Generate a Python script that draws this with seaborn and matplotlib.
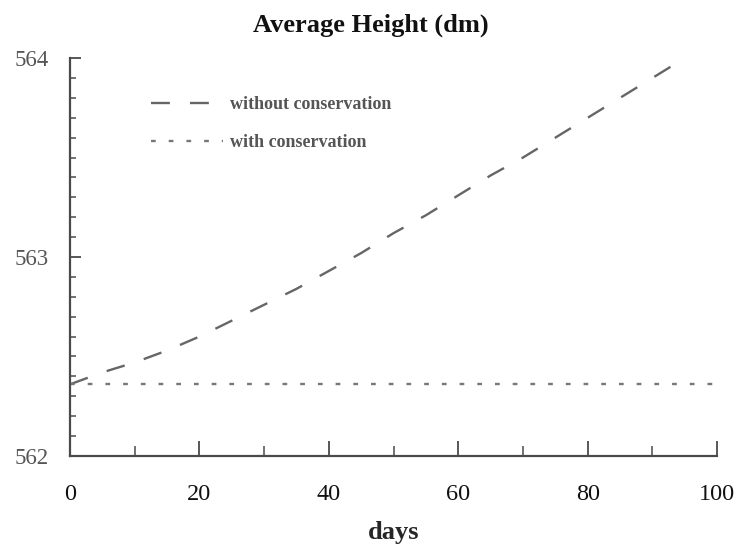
import matplotlib
matplotlib.use("Agg")
import matplotlib.pyplot as plt
import seaborn as sns
import pandas as pd
from matplotlib.ticker import MultipleLocator

# Simulated average height over time (dm)
days = [0, 5, 10, 15, 20, 25, 30, 35, 40, 45, 50,
        55, 60, 65, 70, 75, 80, 85, 90, 95, 100]
without_conservation = [562.36, 562.42, 562.47, 562.53, 562.60, 562.68, 562.76,
                        562.84, 562.93, 563.02, 563.12, 563.21, 563.31, 563.41,
                        563.50, 563.60, 563.70, 563.80, 563.90, 564.00, 564.10]
with_conservation = [562.36] * len(days)

series_names = ["without conservation", "with conservation"]
x_ticks = [0, 20, 40, 60, 80, 100]
y_ticks = [562, 563, 564]

df = pd.DataFrame({
    "days": days * 2,
    "height": without_conservation + with_conservation,
    "series": [series_names[0]] * len(days) + [series_names[1]] * len(days),
})

sns.set_theme(style="ticks")
plt.rcParams["font.family"] = ["Liberation Serif", "DejaVu Serif"]

fig = plt.figure(figsize=(7.37, 5.48), dpi=100)
ax = fig.add_axes([0.095, 0.168, 0.878, 0.726])

line_color = "#666666"
sns.lineplot(
    data=df, x="days", y="height", hue="series", style="series",
    palette={series_names[0]: line_color, series_names[1]: "#777777"},
    dashes={series_names[0]: (8, 8.5), series_names[1]: (2, 5.5)},
    linewidth=1.7, ax=ax, legend=True,
)

ax.set_xlim(0, 100)
ax.set_ylim(562, 564)

ax.xaxis.set_minor_locator(MultipleLocator(10))
ax.yaxis.set_minor_locator(MultipleLocator(0.1))
ax.set_xticks(x_ticks)
ax.set_yticks(y_ticks)
ax.set_xticklabels([str(t) for t in x_ticks])
ax.set_yticklabels([str(t) for t in y_ticks])

axis_color = "#4a4a4a"
for side in ["top", "right"]:
    ax.spines[side].set_visible(False)
for side in ["left", "bottom"]:
    ax.spines[side].set_color(axis_color)
    ax.spines[side].set_linewidth(1.6)

ax.tick_params(axis="x", which="major", direction="in", length=11, width=1.3,
               color=axis_color, pad=20, labelsize=17.5, labelcolor="#111111")
ax.tick_params(axis="x", which="minor", direction="in", length=7, width=1.1,
               color=axis_color)
ax.tick_params(axis="y", which="major", direction="in", length=8, width=1.3,
               color=axis_color, pad=15, labelsize=16.5, labelcolor="#555555")
ax.tick_params(axis="y", which="minor", direction="in", length=4, width=1.1,
               color=axis_color)

ax.set_xlabel("days", fontsize=19, fontweight="bold", labelpad=12)
ax.set_ylabel("")
ax.grid(False)

leg = ax.legend(
    loc="upper left", bbox_to_anchor=(0.1, 0.945), frameon=False,
    handlelength=4.0, handletextpad=0.35, labelspacing=1.15,
    prop={"family": "Liberation Serif", "weight": "bold", "size": 13},
)
for txt in leg.get_texts():
    txt.set_color("#555555")

fig.suptitle("Average Height (dm)", x=0.503, y=0.975, fontsize=19,
             fontweight="bold", color="#111111")

fig.savefig("out.png", dpi=100, facecolor="white")
